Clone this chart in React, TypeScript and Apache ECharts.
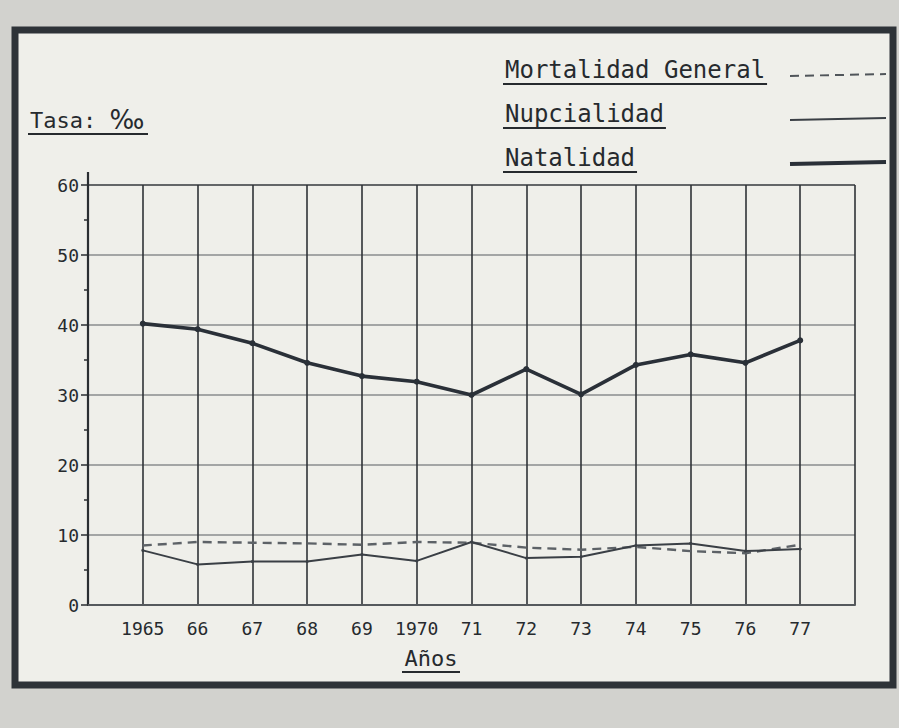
import React, { useEffect, useRef } from "react";
import * as echarts from "echarts";

const years = ["1965", "66", "67", "68", "69", "1970", "71", "72", "73", "74", "75", "76", "77"];
const natalidad = [40.2, 39.4, 37.4, 34.6, 32.7, 31.9, 30.0, 33.7, 30.1, 34.3, 35.8, 34.6, 37.8];
const mortalidad = [8.5, 9.0, 8.9, 8.8, 8.6, 9.0, 8.9, 8.2, 7.9, 8.3, 7.7, 7.4, 8.6];
const nupcialidad = [7.8, 5.8, 6.2, 6.2, 7.2, 6.3, 9.0, 6.7, 6.9, 8.5, 8.8, 7.7, 8.0];
const yMin = 0;
const yMax = 60;
const yStep = 10;
const seriesNames = ["Mortalidad General", "Nupcialidad", "Natalidad"];
const yTitleWord = "Tasa:";
const yTitleUnit = "‰";
const xTitle = "Años";

const FONT = "DejaVu Sans Mono";
const INK = "#262a2e";

export default function App() {
  const ref = useRef<HTMLDivElement>(null);

  useEffect(() => {
    if (!ref.current) return;
    const chart = echarts.init(ref.current, null, { renderer: "svg" });
    const cats = ["", ...years, ""];
    const pad = (a: number[]) => [null, ...a, null];

    const legendFont = 24;
    const charW = legendFont * 0.602;
    const legendX = 505;
    const legendY = [70, 114, 158];
    const sampleStyles = [
      { lineDash: [9, 6], lineWidth: 2, stroke: "#50555a" },
      { lineWidth: 2, stroke: "#3a3f45" },
      { lineWidth: 4, stroke: "#2a3038" },
    ];
    const legendGraphics: any[] = [];
    seriesNames.forEach((name, i) => {
      legendGraphics.push({
        type: "text",
        x: legendX,
        y: legendY[i],
        style: { text: name, font: `${legendFont}px '${FONT}'`, fill: INK, verticalAlign: "middle" },
      });
      legendGraphics.push({
        type: "line",
        shape: { x1: legendX - 2, y1: legendY[i] + 14, x2: legendX + name.length * charW + 2, y2: legendY[i] + 14 },
        style: { stroke: INK, lineWidth: 2 },
      });
      legendGraphics.push({
        type: "line",
        shape: { x1: 790, y1: legendY[i] + 6, x2: 886, y2: legendY[i] + 4 },
        style: sampleStyles[i],
      });
    });

    const option: any = {
      animation: false,
      backgroundColor: "#d2d2ce",
      grid: { left: 88, right: 44, top: 185, bottom: 123 },
      xAxis: {
        type: "category",
        data: cats,
        boundaryGap: false,
        axisLine: { show: true, lineStyle: { color: "#55595d", width: 2 } },
        axisTick: { show: false },
        axisLabel: { interval: 0, color: INK, fontFamily: FONT, fontSize: 18, margin: 14 },
        splitLine: { show: true, lineStyle: { color: "#2f3337", width: 1.6 } },
      },
      yAxis: {
        type: "value",
        min: yMin,
        max: yMax,
        interval: yStep,
        axisLine: { show: true, lineStyle: { color: "#2a2e32", width: 2.2 } },
        axisTick: { show: true, inside: false, length: 7, lineStyle: { color: "#2a2e32", width: 1.5 } },
        minorTick: { show: true, splitNumber: 2, length: 4, lineStyle: { color: "#2a2e32", width: 1.5 } },
        axisLabel: { color: INK, fontFamily: FONT, fontSize: 18, margin: 9 },
        splitLine: {
          show: true,
          lineStyle: {
            color: ["#5a5e62", "#8a8c8e", "#8a8c8e", "#8a8c8e", "#8a8c8e", "#8a8c8e", "#34383c"],
            width: 1.6,
          },
        },
      },
      series: [
        {
          name: seriesNames[0],
          type: "line",
          data: pad(mortalidad),
          showSymbol: false,
          symbol: "none",
          lineStyle: { color: "#5d6267", width: 2.4, type: [9, 6] },
          z: 3,
        },
        {
          name: seriesNames[1],
          type: "line",
          data: pad(nupcialidad),
          symbol: "circle",
          symbolSize: 3,
          itemStyle: { color: "#3a3f45" },
          lineStyle: { color: "#3a3f45", width: 2 },
          z: 4,
        },
        {
          name: seriesNames[2],
          type: "line",
          data: pad(natalidad),
          symbol: "circle",
          symbolSize: 6,
          itemStyle: { color: "#2a3038" },
          lineStyle: { color: "#2a3038", width: 3.6 },
          z: 5,
        },
      ],
      graphic: [
        {
          type: "rect",
          z: -10,
          shape: { x: 15, y: 30, width: 878, height: 655 },
          style: { fill: "#efefea", stroke: "#2e3338", lineWidth: 7 },
        },
        {
          type: "line",
          shape: { x1: 88, y1: 172, x2: 88, y2: 185 },
          style: { stroke: "#2a2e32", lineWidth: 2.2 },
        },
        {
          type: "text",
          x: 30,
          y: 120,
          style: {
            text: `{a|${yTitleWord} }{b|${yTitleUnit}}`,
            fill: INK,
            verticalAlign: "middle",
            rich: {
              a: { fontFamily: FONT, fontSize: 22, fill: INK },
              b: { fontFamily: "DejaVu Sans", fontSize: 26, fill: INK },
            },
          },
        },
        {
          type: "line",
          shape: { x1: 28, y1: 134, x2: 148, y2: 134 },
          style: { stroke: INK, lineWidth: 2 },
        },
        {
          type: "text",
          x: 431,
          y: 658,
          style: { text: xTitle, font: `22px '${FONT}'`, fill: INK, verticalAlign: "middle", align: "center" },
        },
        {
          type: "line",
          shape: { x1: 402, y1: 672, x2: 460, y2: 672 },
          style: { stroke: INK, lineWidth: 2 },
        },
        ...legendGraphics,
      ],
    };
    chart.setOption(option);
    return () => chart.dispose();
  }, []);

  return (
    <div style={{ position: "absolute", left: 0, top: 0, width: 899, height: 728 }}>
      <div ref={ref} style={{ width: 899, height: 728 }} />
    </div>
  );
}
